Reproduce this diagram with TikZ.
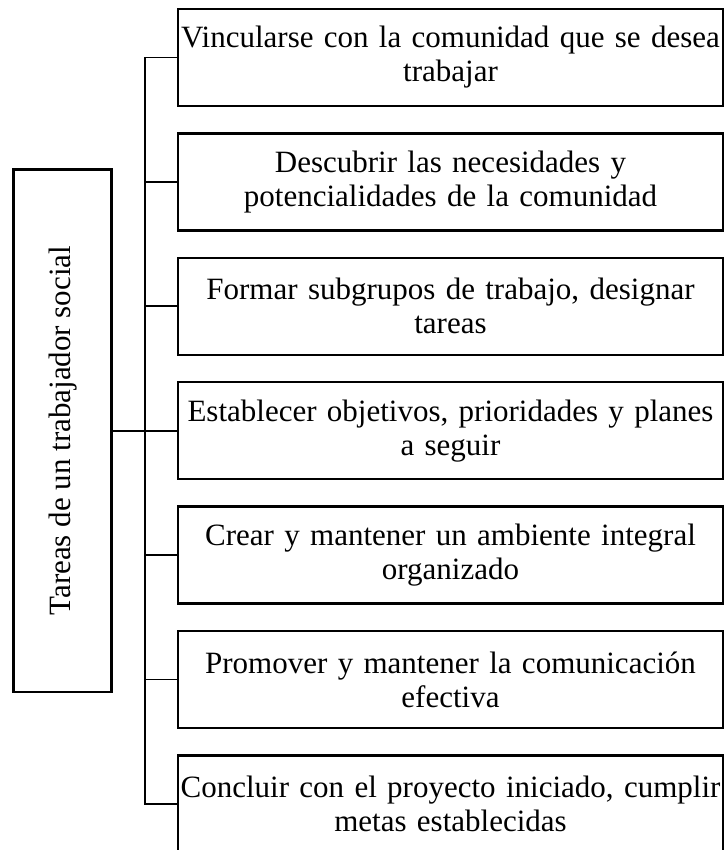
\documentclass[tikz,border=0pt]{standalone}
\usepackage{fontspec}
\setmainfont{Liberation Serif}
\usepackage{graphicx}
\usetikzlibrary{positioning}

\begin{document}
\begin{tikzpicture}[x=1pt, y=1pt, node distance=25pt, line width=1.8pt,
		task node/.style={rectangle,draw,line width=2.4pt,minimum width=545pt,minimum height=97pt,
			text width=545pt,align=center,inner xsep=0pt,font=\fontsize{31}{34}\selectfont},
		main node/.style={rectangle,draw,line width=2.4pt,minimum width=98pt,minimum height=522pt,
			inner sep=0pt,font=\fontsize{31}{34}\selectfont}]
		
		\useasboundingbox (0,0) rectangle (726,-850);
		
		\node[task node] (1) at (450.5,-57.5) {Vincularse con la comunidad que se desea\\ trabajar};
		\node[task node] (2) [below=of 1] {Descubrir las necesidades y\\ potencialidades de la comunidad};
		\node[task node] (3) [below=of 2] {Formar subgrupos de trabajo, designar\\ tareas};
		\node[task node] (4) [below=of 3] {Establecer objetivos, prioridades y planes\\ a seguir};
		\node[task node] (5) [below=of 4] {Crear y mantener un ambiente integral\\ organizado};
		\node[task node] (6) [below=of 5] {Promover y mantener la comunicación\\ efectiva};
		\node[task node] (7) [below=of 6] {Concluir con el proyecto iniciado, cumplir\\ metas establecidas};
		\node[main node] (0) [left=64pt of 4] {\rotatebox{90}{Tareas de un trabajador social}};
		
		\coordinate[left=32pt of 1.west] (trunk);
		\draw (1.west) -- (trunk) |- (7.west);
		\draw (2.west) -- (2.west -| trunk);
		\draw (3.west) -- (3.west -| trunk);
		\draw (4.west) -- (4.west -| trunk);
		\draw (5.west) -- (5.west -| trunk);
		\draw (6.west) -- (6.west -| trunk);
		\draw[line width=2.4pt] (0.east) -- (0.east -| trunk);
\end{tikzpicture}
\end{document}
